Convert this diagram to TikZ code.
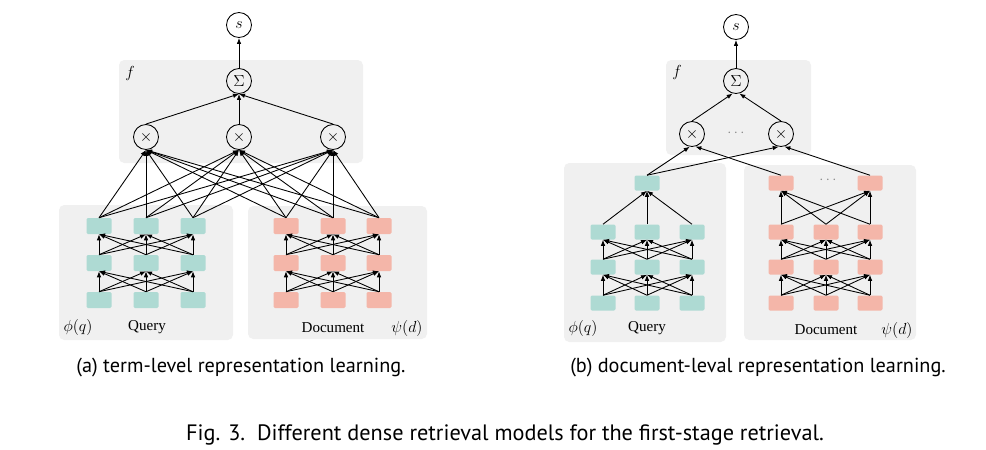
\documentclass[tikz,border=0pt]{standalone}
\usepackage{fontspec}
\setmainfont{Liberation Serif}
\newfontfamily\capfont{PT Sans}
\usetikzlibrary{arrows.meta,calc}
\definecolor{panelgray}{HTML}{F0F0F0}
\definecolor{qcol}{HTML}{AEDAD3}
\definecolor{dcol}{HTML}{F4B6A9}
\definecolor{dotgray}{HTML}{888888}
\begin{document}
\begin{tikzpicture}[x=0.75pt,y=-0.75pt,
  panel/.style={fill=panelgray,draw=none,rounded corners=4pt},
  opnode/.style={circle,draw,line width=0.65pt,minimum size=18.75pt,inner sep=0pt,font=\fontsize{12.5}{13}\selectfont},
  qbox/.style={rectangle,fill=qcol,draw=none,rounded corners=1pt,minimum width=18.75pt,minimum height=12pt,inner sep=0pt},
  dbox/.style={qbox,fill=dcol},
  conn/.style={-{Latex[length=4.5pt,width=3.4pt]},line width=0.65pt},
  lbl/.style={inner sep=0pt,font=\fontsize{11.3}{13}\selectfont},
  mlbl/.style={inner sep=0pt,font=\fontsize{12}{13}\selectfont},
  captext/.style={inner sep=0pt,font=\capfont\fontsize{15.2}{17}\selectfont},
  dotsnode/.style={inner sep=0pt,text=dotgray,font=\fontsize{10.5}{12}\selectfont}]
\useasboundingbox (0,0) rectangle (986,450);
\fill[white] (0,0) rectangle (986,450);

% ================= (a) =================
\fill[panel] (119,60) rectangle (363,163);
\fill[panel] (59,205) rectangle (233,340);
\fill[panel] (248,206) rectangle (427,339);

\node[opnode] (as) at (239,25) {$s$};
\node[opnode] (asig) at (239,81) {$\Sigma$};
\foreach \i/\x in {1/146,2/239,3/333} {
  \node[opnode] (ax\i) at (\x,137) {$\times$};
}
\node[mlbl] (af) at (130,73) {$f$};

\foreach \r/\y in {1/300,2/263,3/226} {
  \foreach \c/\x in {1/99,2/146,3/193} {
    \node[qbox] (aq\r\c) at (\x,\y) {};
  }
  \foreach \c/\x in {1/286,2/333,3/379} {
    \node[dbox] (ad\r\c) at (\x,\y) {};
  }
}
% inner connections
\foreach \r/\rr in {1/2,2/3} {
  \foreach \a in {1,2,3} {
    \foreach \b in {1,2,3} {
      \draw[conn] (aq\r\a.north) -- (aq\rr\b.south);
      \draw[conn] (ad\r\a.north) -- (ad\rr\b.south);
    }
  }
}
% to products
\foreach \a in {1,2,3} {
  \foreach \b in {1,2,3} {
    \draw[conn] (aq3\a.north) -- (ax\b.south);
    \draw[conn] (ad3\a.north) -- (ax\b.south);
  }
  \draw[conn] (ax\a.north) -- (asig.south);
}
\draw[conn] (asig.north) -- (as.south);

\node[mlbl] (aphi) at (78,327) {$\phi(q)$};
\node[lbl] (aquery) at (147,327) {Query};
\node[lbl] (adoc) at (333,328) {Document};
\node[mlbl] (apsi) at (407,328) {$\psi(d)$};

% ================= (b) =================
\fill[panel] (666,60) rectangle (811,155);
\fill[panel] (564,163) rectangle (726,342);
\fill[panel] (744,165) rectangle (916,340);

\node[opnode] (bs) at (736,27) {$s$};
\node[opnode] (bsig) at (736,81) {$\Sigma$};
\node[opnode] (bx1) at (692,134) {$\times$};
\node[opnode] (bx2) at (781,134) {$\times$};
\node[dotsnode] (bxdots) at (736,133) {$\cdots$};
\node[mlbl] (bf) at (677,72) {$f$};

\node[qbox,minimum height=11.25pt] (bqt) at (647,183) {};
\node[dbox,minimum height=11.25pt] (bdt1) at (781,183) {};
\node[dbox,minimum height=11.25pt] (bdt2) at (870,183) {};
\node[dotsnode] (bddots) at (828,180) {$\cdots$};

\foreach \r/\y in {1/303,2/267,3/232} {
  \foreach \c/\x in {1/603,2/647,3/692} {
    \node[qbox,minimum height=11.25pt] (bq\r\c) at (\x,\y) {};
  }
  \foreach \c/\x in {1/781,2/826,3/870} {
    \node[dbox,minimum height=11.25pt] (bd\r\c) at (\x,\y) {};
  }
}
\foreach \r/\rr in {1/2,2/3} {
  \foreach \a in {1,2,3} {
    \foreach \b in {1,2,3} {
      \draw[conn] (bq\r\a.north) -- (bq\rr\b.south);
      \draw[conn] (bd\r\a.north) -- (bd\rr\b.south);
    }
  }
}
\foreach \a in {1,2,3} {
  \draw[conn] (bq3\a.north) -- (bqt.south);
  \draw[conn] (bd3\a.north) -- (bdt1.south);
  \draw[conn] (bd3\a.north) -- (bdt2.south);
}
\draw[conn] (bqt.north) -- (bx1.-100);
\draw[conn] (bqt.north) -- (bx2.-100);
\draw[conn] (bdt1.north) -- (bx1.-75);
\draw[conn] (bdt2.north) -- (bx2.-75);
\draw[conn] (bx1.north) -- (bsig.-105);
\draw[conn] (bx2.north) -- (bsig.-75);
\draw[conn] (bsig.north) -- (bs.south);

\node[mlbl] (bphi) at (583,328) {$\phi(q)$};
\node[lbl] (bquery) at (647,328) {Query};
\node[lbl] (bdoc) at (826,330) {Document};
\node[mlbl] (bpsi) at (897,330) {$\psi(d)$};

% ================= captions =================
\node[captext] (capa) at (241,368) {(a) term-level representation learning.};
\node[captext] (capb) at (758,368) {(b) document-leval representation learning.};
\node[captext,font=\capfont\fontsize{16.7}{18}\selectfont] (capfig) at (505,435) {Fig. 3.\ \ Different dense retrieval models for the first-stage retrieval.};
\end{tikzpicture}
\end{document}
